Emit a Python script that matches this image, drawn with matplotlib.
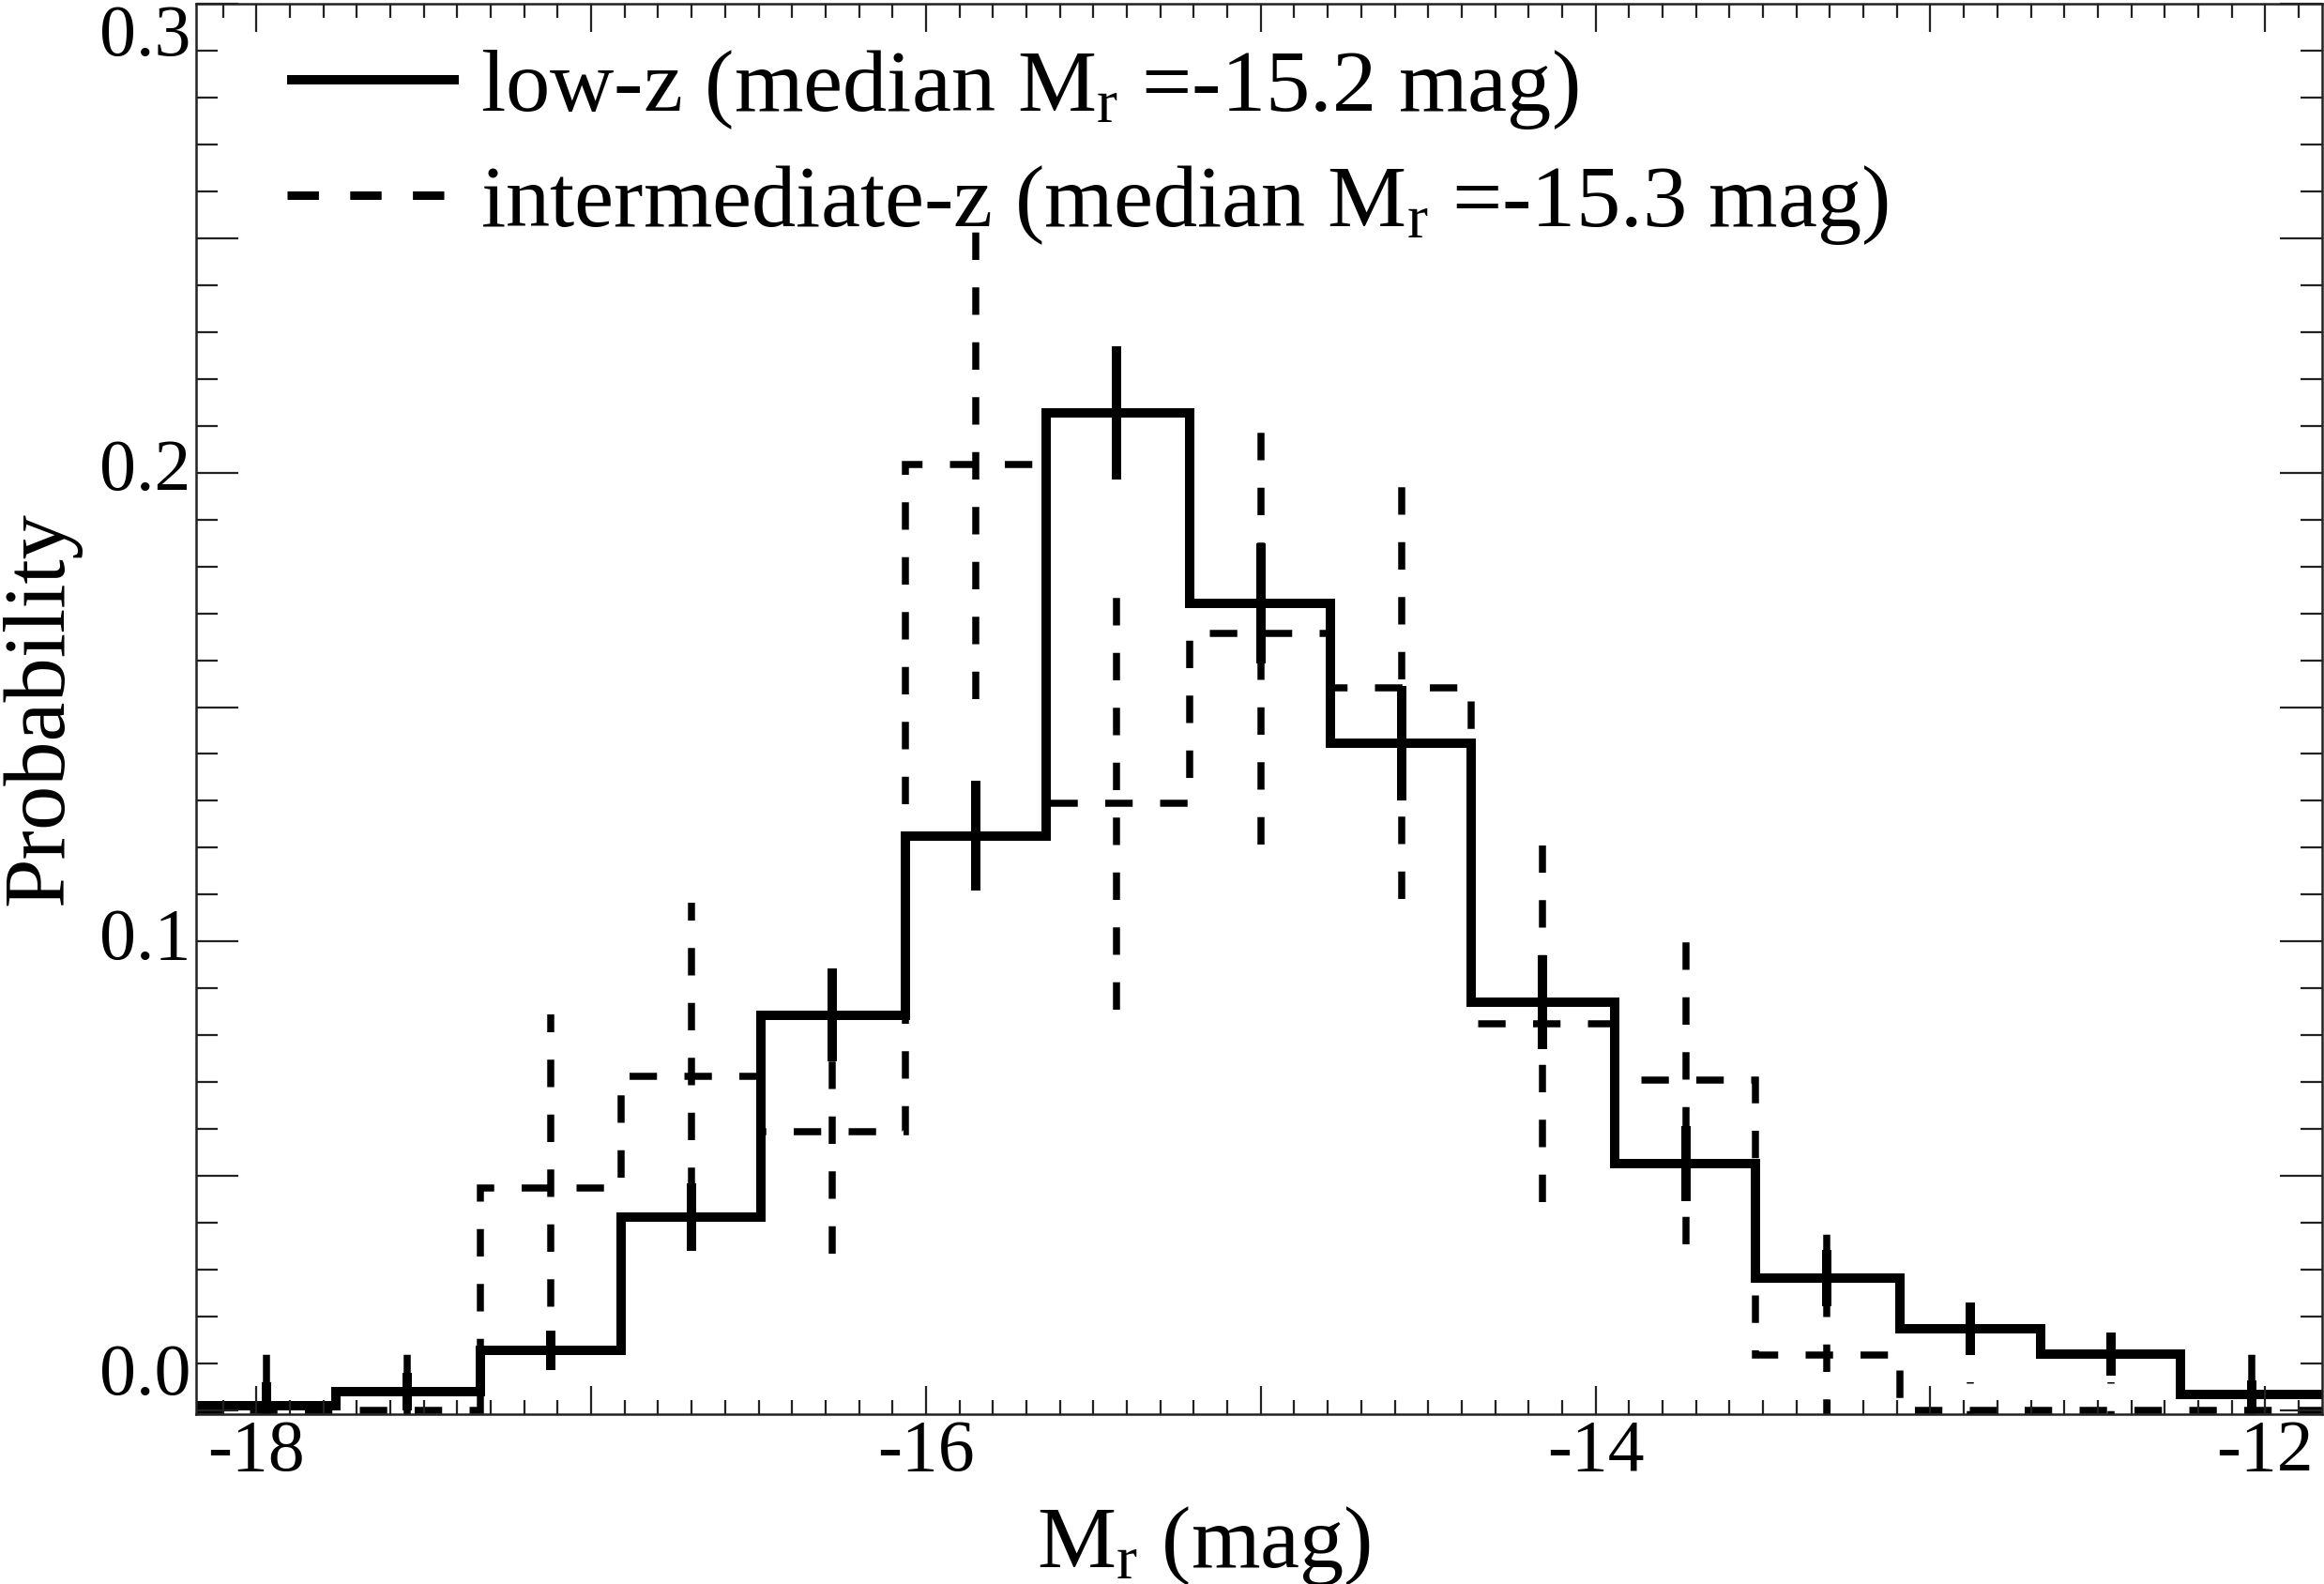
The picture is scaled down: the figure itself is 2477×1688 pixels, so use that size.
import numpy as np
import matplotlib
matplotlib.use('Agg')
import matplotlib.pyplot as plt
from matplotlib.ticker import MultipleLocator, NullFormatter
from matplotlib.lines import Line2D
import matplotlib.transforms as mtransforms

plt.rcParams['font.family'] = ['Liberation Serif', 'DejaVu Serif']
plt.rcParams['mathtext.fontset'] = 'custom'
plt.rcParams['mathtext.rm'] = 'Liberation Serif'
plt.rcParams['mathtext.it'] = 'Liberation Serif:italic'
plt.rcParams['axes.unicode_minus'] = False
plt.rcParams['lines.solid_capstyle'] = 'butt'
plt.rcParams['lines.dash_capstyle'] = 'butt'

# bin centres (M_r, mag) and bin width
bin_centers = [-17.97, -17.55, -17.12, -16.70, -16.28, -15.85, -15.43, -15.00,
               -14.58, -14.16, -13.73, -13.31, -12.88, -12.46, -12.04]
bin_width = 0.4235

# low-z sample
low_z = [0.001, 0.004, 0.0128, 0.0413, 0.0843, 0.1225, 0.2128, 0.1722,
         0.1423, 0.0870, 0.0526, 0.0283, 0.0175, 0.0120, 0.0034]
low_z_err = [0.005, 0.004, 0.0042, 0.0072, 0.0099, 0.0117, 0.0142, 0.0128,
             0.0122, 0.0100, 0.0080, 0.0060, 0.0056, 0.0046, 0.0030]

# intermediate-z sample
mid_z = [0.0, 0.0, 0.0475, 0.0713, 0.0595, 0.2018, 0.1295, 0.1657,
         0.1541, 0.0825, 0.0705, 0.0118, 0.0, 0.0, 0.0]
mid_z_err = [0.0174, 0.0174, 0.037, 0.037, 0.026, 0.050, 0.044, 0.045,
             0.045, 0.038, 0.035, 0.027, 0.006, 0.006, 0.0175]

labels = ['low-z (median M$_\\mathrm{r}$ =-15.2 mag)',
          'intermediate-z (median M$_\\mathrm{r}$ =-15.3 mag)']

fs = 56      # tick labels
fs_big = 68  # axis titles and legend
lw_solid = 7.2
lw_dash = 5.4
dash = (0, (3.9, 3.9))

centers = np.array(bin_centers)
edges = np.append(centers - bin_width / 2, centers[-1] + bin_width / 2)

fig = plt.figure(figsize=(24.77, 16.88), dpi=100)
ax = fig.add_axes([209 / 2477, 1 - 1507 / 1688, 2266 / 2477, 1503 / 1688])

ax.stairs(low_z, edges, baseline=None, color='k', lw=lw_solid)
ax.errorbar(centers, low_z, yerr=low_z_err, fmt='none', ecolor='k',
            elinewidth=lw_solid, capsize=0)

ax.stairs(mid_z, edges, baseline=None, color='k', lw=lw_dash, linestyle=dash)
eb = ax.errorbar(centers, mid_z, yerr=mid_z_err, fmt='none', ecolor='k',
                 elinewidth=lw_dash, capsize=0)
eb[2][0].set_linestyle(dash)

ax.set_xlim(-18.18, -11.83)
ax.set_ylim(-0.0008, 0.3)

# ticks, IDL style
ax.xaxis.set_major_locator(MultipleLocator(1))
ax.xaxis.set_minor_locator(MultipleLocator(0.1))
ax.xaxis.set_major_formatter(plt.FuncFormatter(
    lambda v, p: '%d' % round(v) if round(v) % 2 == 0 else ''))
ax.yaxis.set_major_locator(MultipleLocator(0.05))
ax.yaxis.set_minor_locator(MultipleLocator(0.01))
ax.yaxis.set_major_formatter(NullFormatter())
ax.tick_params(which='both', direction='in', top=True, right=True,
               width=1.6, color='#222222')
ax.tick_params(axis='x', which='major', length=21.5, labelsize=fs, pad=4)
ax.tick_params(axis='x', which='minor', length=11)
ax.tick_params(axis='y', which='major', length=32.5)
ax.tick_params(axis='y', which='minor', length=16.5)
for s in ax.spines.values():
    s.set_linewidth(1.8)
    s.set_color('#222222')

# y tick labels placed like the original
trans = mtransforms.blended_transform_factory(ax.transAxes, ax.transData)
off = mtransforms.offset_copy(trans, fig=fig, x=-4, y=0, units='points')
for v, va in [(0.0, 'bottom'), (0.1, 'center'), (0.2, 'center'), (0.3, 'top')]:
    ax.text(0, v, '%.1f' % v, transform=off, ha='right', va=va, fontsize=fs)

ax.set_xlabel('M$_\\mathrm{r}$ (mag)', fontsize=fs_big)
ax.xaxis.set_label_coords(0.474, -0.064)
ax.set_ylabel('Probability', fontsize=fs_big)
ax.yaxis.set_label_coords(-0.054, 0.5)

handles = [Line2D([], [], color='k', lw=lw_solid),
           Line2D([], [], color='k', lw=6.5, linestyle=(0, (3.7, 3.7)))]
ax.legend(handles, labels, loc='upper left', bbox_to_anchor=(0.043, 0.969),
          frameon=False, fontsize=fs_big, handlelength=1.93, handletextpad=0.25,
          labelspacing=0.36, borderpad=0, borderaxespad=0)

fig.savefig('out.png', dpi=100)
